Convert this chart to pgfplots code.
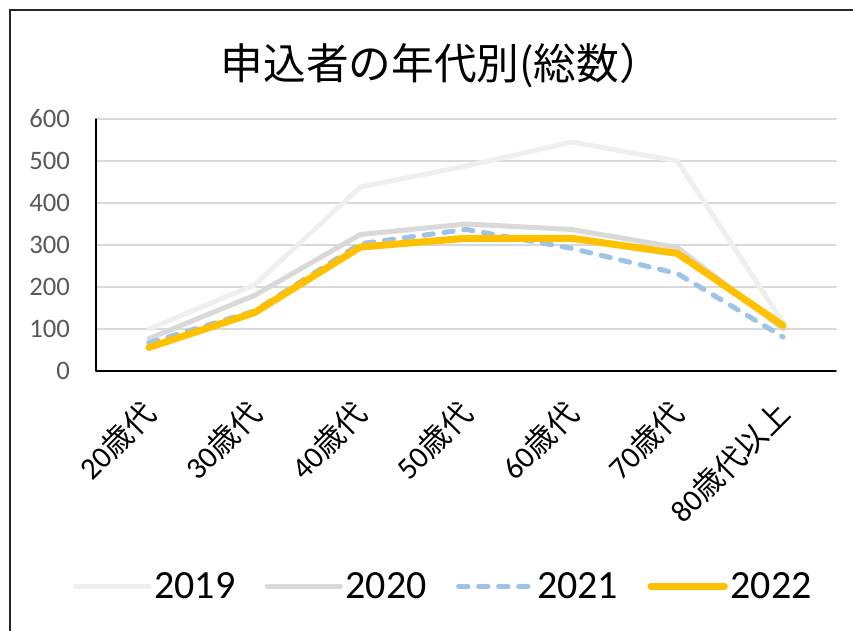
\documentclass[border=0pt]{standalone}
\usepackage{pgfplots}
\pgfplotsset{compat=1.18}
\usepackage{fontspec}
\setmainfont{Carlito}
\newfontfamily\cjk{Noto Sans CJK JP}
\definecolor{c2019}{HTML}{EFEFEF}
\definecolor{c2020}{HTML}{D9D9D9}
\definecolor{c2021}{HTML}{9DC3E6}
\definecolor{c2022}{HTML}{FFC000}
\definecolor{tickgray}{HTML}{595959}
\definecolor{gridgray}{HTML}{D9D9D9}
\pgfplotstableread{
x y19 y20 y21 y22
0 100 77 67 56
1 205 180 143 139
2 438 325 303 295
3 488 350 337 316
4 545 337 292 316
5 500 294 232 280
6 115 100 81 108
}\agedata
\begin{document}
\begin{tikzpicture}
\useasboundingbox (0,0) rectangle (639.75pt,473.25pt);
\draw[line width=1.5pt, black!85] (7.5pt,0) -- (7.5pt,465.75pt) -- (639.75pt,465.75pt);
\node[font=\cjk\fontsize{32}{36}\selectfont, anchor=center] at (331pt,424pt) {申込者の年代別(総数）};
\begin{axis}[
  at={(72pt,195pt)}, anchor=south west,
  scale only axis, width=555pt, height=189pt,
  xmin=-0.5, xmax=6.5, ymin=0, ymax=600,
  ytick={0,100,...,600},
  xtick={0,...,6},
  xticklabels={20{\cjk 歳代},30{\cjk 歳代},40{\cjk 歳代},50{\cjk 歳代},60{\cjk 歳代},70{\cjk 歳代},80{\cjk 歳代以上}},
  axis x line=bottom, axis y line=left,
  axis line style={-, black, line width=1pt},
  major tick length=0pt,
  ymajorgrids, grid style={gridgray, line width=1.2pt},
  /pgf/number format/assume math mode=true,
  yticklabel style={font=\fontsize{20}{24}\selectfont, text=tickgray, xshift=-16pt},
  xticklabel style={font=\fontsize{23}{27}\selectfont, rotate=45, anchor=east, xshift=-15.5pt, yshift=-20pt},
  legend style={draw=none, fill=none, at={(0.47,-0.855)}, anchor=center,
    font=\fontsize{30}{34}\selectfont, legend columns=4,
    /tikz/every even column/.append style={column sep=20pt},
    /tikz/every odd column/.append style={column sep=0pt}},
  legend image code/.code={\draw[#1] (0pt,0pt) -- (55pt,0pt);},
  line join=round, line cap=round,
]
\addplot[c2019, line width=3.75pt, line cap=round, line join=round] table[x=x,y=y19]{\agedata};
\addlegendentry{2019}
\addplot[c2020, line width=3.75pt, line cap=round, line join=round] table[x=x,y=y20]{\agedata};
\addlegendentry{2020}
\addplot[c2021, line width=3.75pt, line cap=round, line join=round, dash pattern=on 7pt off 8pt] table[x=x,y=y21]{\agedata};
\addlegendentry{2021}
\addplot[c2022, line width=5.25pt, line cap=round, line join=round] table[x=x,y=y22]{\agedata};
\addlegendentry{2022}
\end{axis}
\end{tikzpicture}
\end{document}
